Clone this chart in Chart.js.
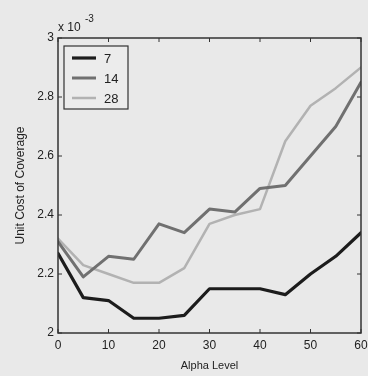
<!DOCTYPE html>
<html>
<head>
<meta charset="utf-8">
<script src="https://cdn.jsdelivr.net/npm/chart.js@4"></script>
<style>
html,body{margin:0;padding:0;background:#e9e9e9;}
#wrap{position:relative;width:368px;height:376px;}
</style>
</head>
<body>
<div id="wrap"><canvas id="c" width="368" height="376"></canvas></div>
<script>
const alphaLevels = [0, 5, 10, 15, 20, 25, 30, 35, 40, 45, 50, 55, 60];
const series7  = [2.27, 2.12, 2.11, 2.05, 2.05, 2.06, 2.15, 2.15, 2.15, 2.13, 2.20, 2.26, 2.34];
const series14 = [2.31, 2.19, 2.26, 2.25, 2.37, 2.34, 2.42, 2.41, 2.49, 2.50, 2.60, 2.70, 2.85];
const series28 = [2.32, 2.23, 2.20, 2.17, 2.17, 2.22, 2.37, 2.40, 2.42, 2.65, 2.77, 2.83, 2.90];
const seriesNames = ['7', '14', '28'];
const xTicks = [0, 10, 20, 30, 40, 50, 60];
const yTicks = [2, 2.2, 2.4, 2.6, 2.8, 3];

const FONT = 'Liberation Sans, Arial, sans-serif';

const framePlugin = {
  id: 'frame',
  afterDraw(chart) {
    const ctx = chart.ctx, a = chart.chartArea;
    const xs = chart.scales.x, ys = chart.scales.y;
    ctx.save();
    ctx.strokeStyle = '#333';
    ctx.lineWidth = 1.5;
    ctx.strokeRect(a.left, a.top, a.right - a.left, a.bottom - a.top);
    ctx.lineWidth = 1;
    const L = 4;
    ctx.beginPath();
    xTicks.forEach(v => {
      const p = xs.getPixelForValue(v);
      ctx.moveTo(p, a.bottom); ctx.lineTo(p, a.bottom - L);
      ctx.moveTo(p, a.top); ctx.lineTo(p, a.top + L);
    });
    yTicks.forEach(v => {
      const p = ys.getPixelForValue(v);
      ctx.moveTo(a.left, p); ctx.lineTo(a.left + L, p);
      ctx.moveTo(a.right, p); ctx.lineTo(a.right - L, p);
    });
    ctx.stroke();
    // exponent label
    ctx.fillStyle = '#222';
    ctx.font = '12px ' + FONT;
    ctx.textBaseline = 'alphabetic';
    ctx.textAlign = 'left';
    ctx.fillText('x 10', a.left, a.top - 7);
    ctx.font = '10px ' + FONT;
    ctx.fillText('-3', a.left + 27, a.top - 16);
    // legend
    const bx = a.left + 6, by = a.top + 8, bw = 64, bh = 63;
    ctx.fillStyle = '#ececec';
    ctx.fillRect(bx, by, bw, bh);
    ctx.strokeStyle = '#333';
    ctx.lineWidth = 1.2;
    ctx.strokeRect(bx, by, bw, bh);
    ctx.font = '13px ' + FONT;
    ctx.textBaseline = 'middle';
    chart.data.datasets.forEach((ds, i) => {
      const y = by + 12 + i * 20;
      ctx.strokeStyle = ds.borderColor;
      ctx.lineWidth = ds.borderWidth;
      ctx.beginPath();
      ctx.moveTo(bx + 8, y); ctx.lineTo(bx + 32, y);
      ctx.stroke();
      ctx.fillStyle = '#222';
      ctx.fillText(ds.label, bx + 40, y + 1);
    });
    ctx.restore();
  }
};

new Chart(document.getElementById('c'), {
  type: 'line',
  data: {
    datasets: [
      { label: seriesNames[0], data: alphaLevels.map((x, i) => ({x, y: series7[i]})), borderColor: '#1c1c1c', borderWidth: 3.2 },
      { label: seriesNames[1], data: alphaLevels.map((x, i) => ({x, y: series14[i]})), borderColor: '#707070', borderWidth: 3 },
      { label: seriesNames[2], data: alphaLevels.map((x, i) => ({x, y: series28[i]})), borderColor: '#b2b2b2', borderWidth: 2.5 }
    ]
  },
  options: {
    responsive: false,
    animation: false,
    devicePixelRatio: 1,
    layout: { padding: { top: 38, right: 7, left: 13, bottom: 0 } },
    elements: { point: { radius: 0 }, line: { tension: 0, borderJoinStyle: 'round', borderCapStyle: 'round' } },
    plugins: { legend: { display: false }, tooltip: { enabled: false } },
    scales: {
      x: {
        type: 'linear', min: 0, max: 60,
        afterBuildTicks(s) { s.ticks = xTicks.map(v => ({value: v})); },
        afterFit(s) { s.height = 43; s.paddingLeft = 0; s.paddingRight = 0; },
        grid: { display: false, drawTicks: false },
        border: { display: false },
        ticks: { color: '#222', font: { family: FONT, size: 12 }, padding: 5, maxRotation: 0, autoSkip: false },
        title: { display: true, text: 'Alpha Level', color: '#222', font: { family: FONT, size: 11 }, padding: { top: 0, bottom: 3 } }
      },
      y: {
        type: 'linear', min: 2, max: 3,
        afterBuildTicks(s) { s.ticks = yTicks.map(v => ({value: v})); },
        afterFit(s) { s.width = 45; s.paddingTop = 0; s.paddingBottom = 0; },
        grid: { display: false, drawTicks: false },
        border: { display: false },
        ticks: { color: '#222', font: { family: FONT, size: 12 }, padding: 4, callback: v => String(v) },
        title: { display: true, text: 'Unit Cost of Coverage', color: '#222', font: { family: FONT, size: 12 }, padding: { top: 0, bottom: 0 } }
      }
    }
  },
  plugins: [framePlugin]
});
</script>
</body>
</html>
